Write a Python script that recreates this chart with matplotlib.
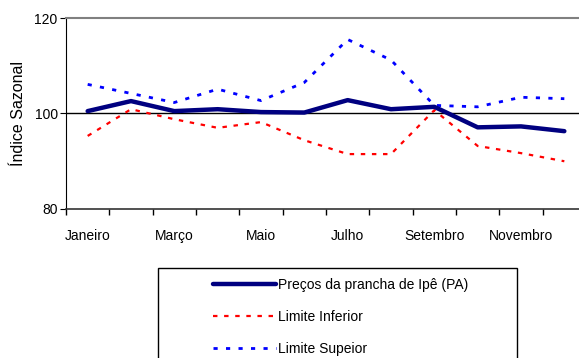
import matplotlib
matplotlib.use("Agg")
import matplotlib.pyplot as plt
import matplotlib.patches as patches
import numpy as np

plt.rcParams['font.family'] = ['Liberation Sans', 'DejaVu Sans']

months = ['Janeiro', 'Fevereiro', 'Março', 'Abril', 'Maio', 'Junho',
          'Julho', 'Agosto', 'Setembro', 'Outubro', 'Novembro', 'Dezembro']
precos = [100.5, 102.6, 100.5, 100.9, 100.3, 100.2, 102.8, 100.9, 101.4, 97.1, 97.3, 96.3]
lim_inf = [95.3, 100.9, 98.8, 97.0, 98.2, 94.4, 91.5, 91.5, 100.7, 93.2, 91.7, 90.0]
lim_sup = [106.1, 104.2, 102.3, 105.1, 102.7, 106.5, 115.5, 111.2, 101.7, 101.4, 103.4, 103.1]

W, H = 579, 358
fig = plt.figure(figsize=(W / 100, H / 100), dpi=100)
ax = fig.add_axes([66 / W, 1 - 209 / H, 520 / W, 191 / H])

x = np.arange(len(months)) + 0.5
ax.axhline(100, color='black', lw=1, zorder=1)
l1, = ax.plot(x, precos, color='#000080', lw=3.2, solid_capstyle='round',
              label='Preços da prancha de Ipê (PA)', zorder=3)
l2, = ax.plot(x, lim_inf, color='#ff0000', lw=1.6, dashes=(2, 3),
              label='Limite Inferior', zorder=2)
l3, = ax.plot(x, lim_sup, color='#0000ff', lw=2, dashes=(1.5, 3),
              label='Limite Supeior', zorder=2)

ax.set_xlim(0, 12)
ax.set_ylim(80, 120)
ax.set_yticks([80, 100, 120])
ax.set_xticks(np.arange(0, 13), minor=False)
ax.set_xticklabels([])
ax.set_xticks(x[::2], minor=True)
ax.set_xticklabels(months[::2], minor=True)
for t in ax.get_xticklabels(minor=True):
    t.set_verticalalignment('baseline')
ax.tick_params(axis='x', which='minor', length=0, pad=22, labelsize=10)
ax.tick_params(axis='x', which='major', length=4, direction='out', width=1)
ax.tick_params(axis='y', length=4, direction='out', labelsize=10, pad=2)
ax.set_ylabel('Índice Sazonal', fontsize=11.5, labelpad=6)

ax.spines['right'].set_visible(False)
ax.spines['top'].set_color('#808080')
ax.spines['top'].set_linewidth(1.5)
ax.spines['left'].set_color('black')
ax.spines['bottom'].set_color('#333333')
ax.spines['bottom'].set_linewidth(1.2)

box = patches.Rectangle((158 / W, -0.05), (517 - 158) / W, 1 - 268 / H + 0.05,
                        transform=fig.transFigure, fill=False, edgecolor='black',
                        lw=1, clip_on=False)
fig.patches.append(box)
fig.legend(handles=[l1, l2, l3], loc='upper left',
           bbox_to_anchor=(200 / W, 1 - 265 / H), frameon=False,
           fontsize=10, handlelength=4.6, handletextpad=0.15, labelspacing=1.3)

fig.savefig('out.png', dpi=100)
